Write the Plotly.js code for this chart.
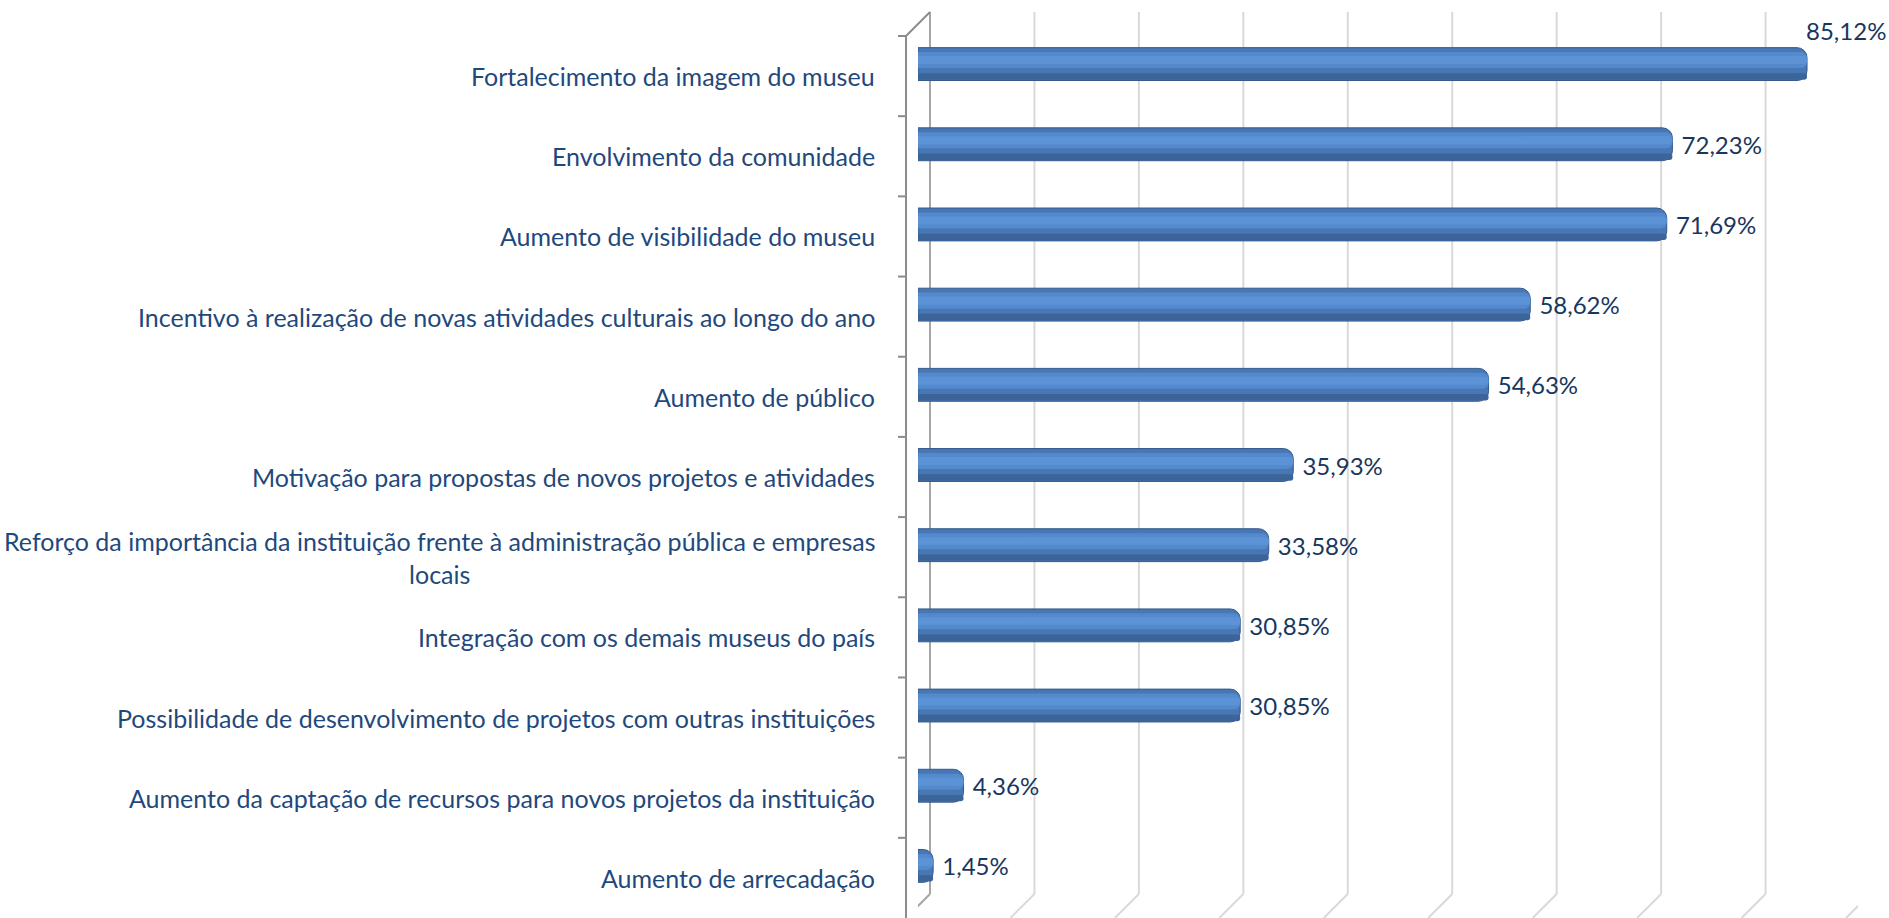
<!DOCTYPE html>
<html>
<head>
<meta charset="utf-8">
<script src="https://cdn.plot.ly/plotly-3.0.1.min.js"></script>
<style>
  html, body { margin: 0; padding: 0; background: #fff; }
  #chart { width: 1889px; height: 918px; }
</style>
</head>
<body>
<div id="chart"></div>
<script>
// categories top to bottom, with the share of museums (%)
var categories = [
  "Fortalecimento da imagem do museu",
  "Envolvimento da comunidade",
  "Aumento de visibilidade do museu",
  "Incentivo à realização de novas atividades culturais ao longo do ano",
  "Aumento de público",
  "Motivação para propostas de novos projetos e atividades",
  "Reforço da importância da instituição frente à administração pública e empresas<br>locais",
  "Integração com os demais museus do país",
  "Possibilidade de desenvolvimento de projetos com outras instituições",
  "Aumento da captação de recursos para novos projetos da instituição",
  "Aumento de arrecadação"
];
var values = [85.12, 72.23, 71.69, 58.62, 54.63, 35.93, 33.58, 30.85, 30.85, 4.36, 1.45];
var gridTicks = [0, 10, 20, 30, 40, 50, 60, 70, 80, 90];

var fmt = v => v.toFixed(2).replace(".", ",") + "%";
var labelFont = { family: "Lato, 'Open Sans', sans-serif", size: 25, color: "#1F497D" };
var valueFont = { family: "Lato, 'Open Sans', sans-serif", size: 24, color: "#17375E" };

// 3d depth offset in px (front plane / back wall)
var d = 12;

// main cylinder-ish bar
var bars = {
  type: "bar",
  orientation: "h",
  x: values,
  y: categories,
  width: 0.41,
  offset: -0.205,
  marker: { color: "#4777B5", line: { color: "#34598A", width: 1 }, cornerradius: 10 },
  text: values.map(v => " " + fmt(v)),
  textposition: values.map((v, i) => i === 0 ? "none" : "outside"),
  textfont: valueFont,
  cliponaxis: false,
  hoverinfo: "skip"
};
// light and dark bands to fake the shading
var shine = {
  type: "bar", orientation: "h", x: values, y: categories,
  width: 0.2, offset: -0.15,
  marker: { color: "#5489CC", cornerradius: 6 },
  hoverinfo: "skip"
};
var shine2 = {
  type: "bar", orientation: "h", x: values, y: categories,
  width: 0.1, offset: -0.1,
  marker: { color: "#5C93D6", cornerradius: 4 },
  hoverinfo: "skip"
};
var shade = {
  type: "bar", orientation: "h", x: values, y: categories,
  width: 0.08, offset: 0.115,
  marker: { color: "#3B6499", cornerradius: 4 },
  hoverinfo: "skip"
};

var shapes = [];
// back wall gridlines + floor diagonals
gridTicks.forEach(function (t) {
  var col = t === 0 ? "#A6A6A6" : "#D9D9D9";
  shapes.push({
    type: "line", layer: "below",
    xref: "x", xsizemode: "pixel", xanchor: t, x0: d, x1: d,
    yref: "paper", ysizemode: "pixel", yanchor: 0, y0: d, y1: 882 + d,
    line: { color: col, width: 2 }
  });
  shapes.push({
    type: "line", layer: "below",
    xref: "x", xsizemode: "pixel", xanchor: t, x0: d, x1: -d,
    yref: "paper", ysizemode: "pixel", yanchor: 0, y0: d, y1: -d,
    line: { color: col, width: 2 }
  });
});
// front axis line and top corner
shapes.push({
  type: "line", layer: "below",
  xref: "paper", xsizemode: "pixel", xanchor: 0, x0: -d, x1: -d,
  yref: "paper", ysizemode: "pixel", yanchor: 0, y0: -d, y1: 882 - d,
  line: { color: "#8C8C8C", width: 2 }
});
shapes.push({
  type: "line", layer: "below",
  xref: "paper", xsizemode: "pixel", xanchor: 0, x0: -d, x1: d,
  yref: "paper", ysizemode: "pixel", yanchor: 0, y0: 882 - d, y1: 882 + d,
  line: { color: "#8C8C8C", width: 2 }
});
// category tick marks on the front axis
for (var k = 0; k <= categories.length; k++) {
  shapes.push({
    type: "line", layer: "below",
    xref: "paper", xsizemode: "pixel", xanchor: 0, x0: -d, x1: -d - 8,
    yref: "y", ysizemode: "pixel", yanchor: k - 0.5, y0: -d, y1: -d,
    line: { color: "#8C8C8C", width: 2 }
  });
}

// category labels (centered multi-line like the original)
var annotations = categories.map(function (c) {
  return {
    text: c, x: 0, xref: "paper", xanchor: "right", xshift: -41,
    y: c, yref: "y", yshift: -d, align: "center",
    showarrow: false, font: labelFont
  };
});
// top value sits above its bar, starting at the bar end
annotations.push({
  text: fmt(values[0]), x: values[0], xref: "x", y: categories[0], yref: "y",
  xanchor: "left", xshift: -3, yshift: 34, showarrow: false, font: valueFont
});

var layout = {
  width: 1889,
  height: 918,
  margin: { l: 918, r: 31, t: 24, b: 12 },
  paper_bgcolor: "#ffffff",
  plot_bgcolor: "rgba(0,0,0,0)",
  barmode: "overlay",
  showlegend: false,
  xaxis: { range: [0, 90], showgrid: false, zeroline: false, showticklabels: false, showline: false, fixedrange: true },
  yaxis: { type: "category", range: [categories.length - 0.5, -0.5], autorange: false, showgrid: false,
           showticklabels: false, showline: false, ticks: "", fixedrange: true },
  shapes: shapes,
  annotations: annotations
};

Plotly.newPlot("chart", [bars, shine, shine2, shade], layout, { displayModeBar: false, staticPlot: true });
</script>
</body>
</html>
